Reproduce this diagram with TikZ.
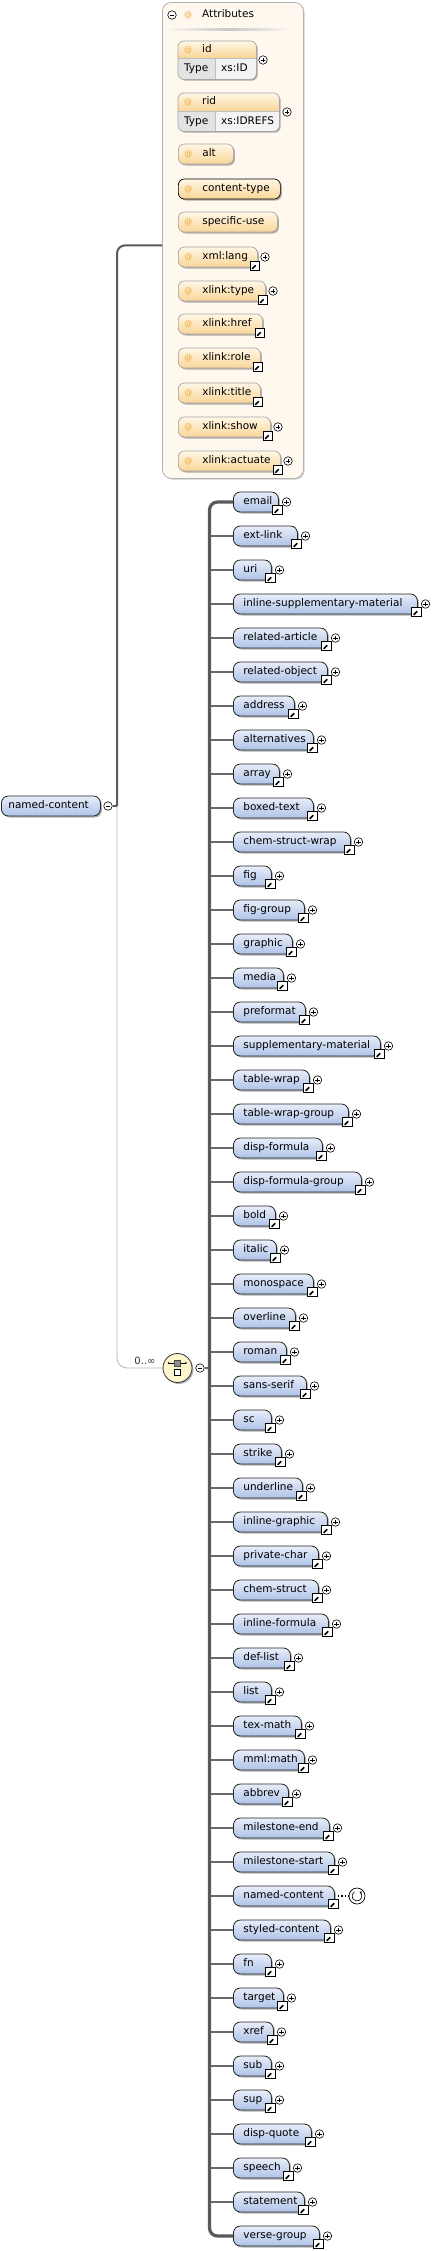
\documentclass[tikz,border=0pt]{standalone}
\usepackage{fontspec}
\setmainfont{DejaVu Sans}
\usetikzlibrary{shadows,arrows.meta}
\definecolor{elemtop}{HTML}{E8EEF9}
\definecolor{elembot}{HTML}{AEC2E8}
\definecolor{attrtop}{HTML}{FFF7E6}
\definecolor{attrbot}{HTML}{F9D597}
\definecolor{atc}{HTML}{EFA531}
\definecolor{cream}{HTML}{FEF8EE}
\definecolor{barc}{HTML}{5A5A5A}
\definecolor{stubc}{HTML}{6A6A6A}
\definecolor{thinc}{HTML}{B4B4B4}
\definecolor{typec}{HTML}{E3E3E3}
\definecolor{valc}{HTML}{F3F3F3}
\definecolor{choicec}{HTML}{FCF7CC}
\tikzset{
  fnt/.style={font=\fontsize{10.5}{12}\selectfont},
  shad/.style={drop shadow={shadow xshift=1.5pt, shadow yshift=-1.5pt, opacity=0.3, fill=black}},
  elem/.style={fnt, draw=black!85, line width=0.8pt, rounded corners=7pt, top color=elemtop, bottom color=elembot,
    minimum height=20pt, inner xsep=10pt, inner ysep=0pt, align=left, anchor=west, text height=7.5pt, text depth=2pt, shad},
  attr/.style={fnt, line width=0.7pt, rounded corners=6pt, top color=attrtop, bottom color=attrbot,
    minimum height=20pt, inner xsep=6pt, inner ysep=0pt, align=left, anchor=west, text height=7.5pt, text depth=2pt, shad},
  pluscirc/.style={circle, draw=black, fill=white, line width=0.6pt, minimum size=8.5pt, inner sep=0pt,
    path picture={\draw[line width=0.6pt] ([xshift=-2.3pt]path picture bounding box.center) -- ([xshift=2.3pt]path picture bounding box.center)
      ([yshift=-2.3pt]path picture bounding box.center) -- ([yshift=2.3pt]path picture bounding box.center);}},
  minuscirc/.style={circle, draw=black, fill=white, line width=0.6pt, minimum size=8.5pt, inner sep=0pt,
    path picture={\draw[line width=0.6pt] ([xshift=-2.3pt]path picture bounding box.center) -- ([xshift=2.3pt]path picture bounding box.center);}},
  lnk/.style={draw=black, fill=white, line width=0.6pt, minimum size=9.5pt, inner sep=0pt,
    path picture={\draw[line width=1.5pt] ([shift={(-2.8pt,-2.8pt)}]path picture bounding box.center) -- ([shift={(0.8pt,0.8pt)}]path picture bounding box.center);
      \fill ([shift={(3.2pt,3.2pt)}]path picture bounding box.center) -- ([shift={(-1.4pt,3.2pt)}]path picture bounding box.center) -- ([shift={(3.2pt,-1.4pt)}]path picture bounding box.center) -- cycle;}},
  stub/.style={draw=stubc, line width=2pt},
  bar/.style={draw=barc, line width=3.2pt},
  rootline/.style={draw=barc, line width=2pt},
  thinline/.style={draw=thinc, line width=0.8pt},
  txt/.style={fnt, inner sep=0pt, anchor=west, text height=7.5pt, text depth=2pt},
}
\begin{document}
\begin{tikzpicture}[x=1pt,y=-1pt]
\useasboundingbox (0,0) rectangle (447,2251);
\fill[white] (0,0) rectangle (447,2251);

% ---------- attributes container ----------
\node[draw=black!30, line width=0.8pt, fill=cream, rounded corners=9pt, minimum width=141pt, minimum height=476pt,
  anchor=north west, inner sep=0pt, drop shadow={shadow xshift=1.2pt, shadow yshift=-1.2pt, opacity=0.2, fill=black}] (attrbox) at (162,2) {};
\node[minuscirc] (am) at (172,15) {};
\node[txt] (atitle) at (184,15) {\makebox[18pt][l]{\fontsize{8}{8}\selectfont\textcolor{atc}{@}}Attributes};
\shade[left color=cream, right color=cream, middle color=black!22] (168,28.5) rectangle (292,30);

% id
\node[anchor=north west, minimum width=78pt, minimum height=38pt, inner sep=0pt, fill=white, rounded corners=6pt, shad] (aid) at (178,41) {};
\begin{scope}
\clip[rounded corners=6pt] (178,41) rectangle (256,79);
\shade[top color=attrtop, bottom color=attrbot] (178,41) rectangle (256,58);
\fill[typec] (178,58) rectangle (215,79);
\fill[valc] (215,58) rectangle (256,79);
\end{scope}
\draw[black!25, line width=0.6pt] (178,58) -- (256,58) (215,58) -- (215,79);
\draw[black!35, line width=0.7pt, rounded corners=6pt] (aid.north west) rectangle (aid.south east);
\node[txt] (aidn) at (184,50) {\makebox[18pt][l]{\fontsize{8}{8}\selectfont\textcolor{atc}{@}}id};
\node[txt] (aidt) at (184,69) {Type};
\node[txt] (aidv) at (221,69) {xs:ID};
\node[pluscirc] (aidp) at (263,60) {};

% rid
\node[anchor=north west, minimum width=101pt, minimum height=38pt, inner sep=0pt, fill=white, rounded corners=6pt, shad] (arid) at (178,93) {};
\begin{scope}
\clip[rounded corners=6pt] (178,93) rectangle (279,131);
\shade[top color=attrtop, bottom color=attrbot] (178,93) rectangle (279,111);
\fill[typec] (178,111) rectangle (215,131);
\fill[valc] (215,111) rectangle (279,131);
\end{scope}
\draw[black!25, line width=0.6pt] (178,111) -- (279,111) (215,111) -- (215,131);
\draw[black!35, line width=0.7pt, rounded corners=6pt] (arid.north west) rectangle (arid.south east);
\node[txt] (aridn) at (184,102) {\makebox[18pt][l]{\fontsize{8}{8}\selectfont\textcolor{atc}{@}}rid};
\node[txt] (aridt) at (184,121.5) {Type};
\node[txt] (aridv) at (221,121.5) {xs:IDREFS};
\node[pluscirc] (aridp) at (287,112) {};

% simple attributes
\foreach \i/\n/\y/\r/\lk/\pl/\bc in {
  1/alt/154/233/0/0/black!35,
  2/content-type/189/280/0/0/black,
  3/specific-use/222/277/0/0/black!35,
  4/xml:lang/257/257/1/1/black!35,
  5/xlink:type/291/265/1/1/black!35,
  6/xlink:href/324/262/1/0/black!35,
  7/xlink:role/358/260/1/0/black!35,
  8/xlink:title/393/260/1/0/black!35,
  9/xlink:show/427/270/1/1/black!35,
  10/xlink:actuate/461/280/1/1/black!35}{
  \pgfmathsetmacro\tw{\r-190}
  \node[attr, draw=\bc, text width=\tw pt] (a\i) at (178,\y) {\mbox{\makebox[18pt][l]{\fontsize{8}{8}\selectfont\textcolor{atc}{@}}\n}};
  \ifnum\lk=1 \node[lnk] (al\i) at (\r-2,\y+9) {}; \fi
  \ifnum\pl=1 \node[pluscirc] (ap\i) at (\r+8,\y) {}; \fi
}

% ---------- root ----------
\node[elem, text width=85pt, inner xsep=7pt] (root) at (1,806) {\mbox{named-content}};
\node[minuscirc] (rm) at (108,806) {};
\coordinate (jn) at (117,806);
\draw[thinline, rounded corners=10pt] (jn) |- (163,1368);
\draw[rootline] (rm.east) -- (jn);
\draw[rootline, rounded corners=8pt] (jn) |- ([yshift=-5pt]attrbox.west);
\node[fnt, font=\fontsize{10}{12}\selectfont, text=black!80, inner sep=0pt] (occ) at (145,1361) {0..∞};

% ---------- choice ----------
\node[circle, draw=black!80, line width=0.8pt, minimum size=29pt, inner sep=0pt, fill=choicec, shad] (ch) at (177.5,1368) {};
\draw[line width=0.6pt] ([shift={(-9pt,5pt)}]ch.center) -- ([shift={(8.5pt,5pt)}]ch.center);
\fill ([shift={(-9pt,5pt)}]ch.center) circle (0.9pt) ([shift={(8.5pt,5pt)}]ch.center) circle (0.9pt);
\filldraw[fill=black!45, draw=black!70, line width=0.5pt] ([shift={(-3pt,2pt)}]ch.center) rectangle ([shift={(3pt,8pt)}]ch.center);
\filldraw[fill=white, draw=black, line width=0.6pt] ([shift={(-3pt,-7.5pt)}]ch.center) rectangle ([shift={(3pt,-1.5pt)}]ch.center);
\node[minuscirc] (cm) at (200,1368) {};
\coordinate (barmid) at (209.5,1368);
\draw[stub] (cm.east) -- (barmid);

% ---------- elements ----------
\foreach \i/\n/\r in {
 0/email/278, 1/ext-link/297, 2/uri/271, 3/inline-supplementary-material/417,
 4/related-article/327, 5/related-object/327, 6/address/294, 7/alternatives/313,
 8/array/279, 9/boxed-text/313, 10/chem-struct-wrap/350, 11/fig/271,
 12/fig-group/304, 13/graphic/292, 14/media/283, 15/preformat/305,
 16/supplementary-material/380, 17/table-wrap/309, 18/table-wrap-group/348, 19/disp-formula/322,
 20/disp-formula-group/361, 21/bold/275, 22/italic/276, 23/monospace/313,
 24/overline/295, 25/roman/286, 26/sans-serif/306, 27/sc/271,
 28/strike/281, 29/underline/302, 30/inline-graphic/327, 31/private-char/318,
 32/chem-struct/318, 33/inline-formula/328, 34/def-list/290, 35/list/271,
 36/tex-math/301, 37/mml:math/304, 38/abbrev/288, 39/milestone-end/329,
 40/milestone-start/334, 41/named-content/334, 42/styled-content/330, 43/fn/271,
 44/target/283, 45/xref/273, 46/sub/271, 47/sup/271,
 48/disp-quote/311, 49/speech/289, 50/statement/304, 51/verse-group/319}{
  \pgfmathsetmacro\yc{502+34*\i}
  \pgfmathsetmacro\tw{\r-253}
  \ifnum\i>0 \ifnum\i<51 \draw[stub] (209.5,\yc) -- (233,\yc); \fi\fi
  \node[elem, text width=\tw pt] (e\i) at (233,\yc) {\mbox{\n}};
  \node[lnk] (l\i) at (\r-0.5,\yc+8) {};
  \ifnum\i=41 \else \node[pluscirc] (p\i) at (\r+8.5,\yc) {}; \fi
}
\draw[bar, rounded corners=8pt] (e0.west) -| (barmid) |- (e51.west);

% recursion marker
\node[circle, draw=black, fill=white, line width=0.7pt, minimum size=16pt, inner sep=0pt] (rec) at (357,1896) {};
\draw[line width=1.3pt, dash pattern=on 1.3pt off 2.2pt] ([xshift=3pt]e41.east) -- (rec.west);
\draw[line width=0.6pt, -{Stealth[length=2.5pt,width=2.8pt]}] ([shift={(-2.5pt,4.33pt)}]rec.center) arc[start angle=120, end angle=420, radius=5pt];
\end{tikzpicture}
\end{document}
